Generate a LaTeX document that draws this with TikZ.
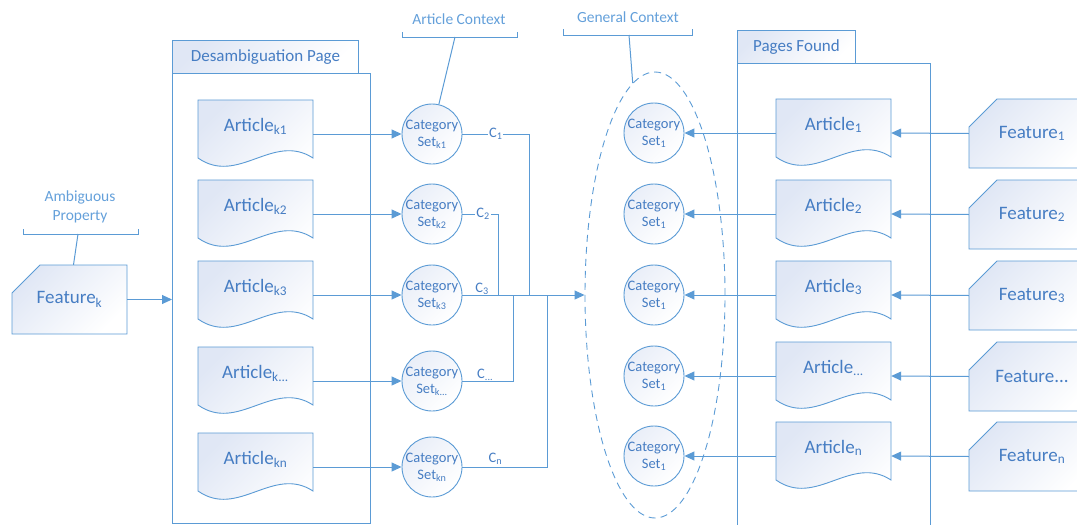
\documentclass[tikz,border=0pt]{standalone}
\usepackage{fontspec}
\setmainfont{Carlito}
\usetikzlibrary{arrows.meta,shapes.geometric,calc}
\definecolor{lineblue}{RGB}{91,155,213}
\definecolor{textblue}{RGB}{70,125,195}
\definecolor{lightblue}{RGB}{100,160,218}
\definecolor{fillc}{RGB}{224,231,245}
\tikzset{
 shapefill/.style={draw=lineblue, line width=0.9pt, top color=fillc, bottom color=white, shading angle=45},
 featnode/.style={inner sep=0, minimum height=69, text=textblue, font=\fontsize{19}{20}\selectfont},
 docnode/.style={inner sep=0, minimum width=115, minimum height=68, text=textblue, font=\fontsize{19}{20}\selectfont},
 catnode/.style={circle, draw=lineblue, line width=0.9pt, top color=fillc!70, bottom color=white, shading angle=45, minimum size=60, inner sep=0, text=textblue, align=center, font=\fontsize{14.5}{17}\selectfont},
 conn/.style={draw=lineblue, line width=1pt},
 arr/.style={conn, -{Triangle[length=10pt,width=9pt]}},
 clbl/.style={text=textblue, font=\fontsize{14.5}{15}\selectfont, inner sep=1pt},
 note/.style={text=lightblue, font=\fontsize{15.5}{19}\selectfont, align=center, inner sep=0},
 bracket/.style={draw=lineblue, line width=0.9pt},
 boxnode/.style={draw=lineblue, line width=0.9pt, fill=white, inner sep=0, anchor=north west},
 tabnode/.style={draw=lineblue, line width=0.9pt, top color=fillc, bottom color=white, shading angle=45, inner sep=0, anchor=north west, minimum height=33, text=textblue, font=\fontsize{17}{18}\selectfont},
 gcstyle/.style={ellipse, draw=lineblue, line width=0.9pt, dash pattern=on 7pt off 5pt, minimum width=140, minimum height=446, inner sep=0}
}
\newcommand\docbox[4]{%
 \pgfmathsetmacro\dxa{#2+115}\pgfmathsetmacro\dyb{#3+58}%
 \pgfmathsetmacro\dcxa{#2+75}\pgfmathsetmacro\dcya{#3+32}%
 \pgfmathsetmacro\dcxb{#2+40}\pgfmathsetmacro\dcyb{#3+86}%
 \pgfmathsetmacro\dmx{#2+57.5}\pgfmathsetmacro\dmy{#3+34}%
 \path[shapefill] (#2,#3) -- (\dxa,#3) -- (\dxa,\dyb) .. controls (\dcxa,\dcya) and (\dcxb,\dcyb) .. (#2,\dyb) -- cycle;
 \node[docnode] (#1) at (\dmx,\dmy) {\raisebox{3pt}[0pt][0pt]{#4}};
}
\newcommand\featbox[5]{%
 \pgfmathsetmacro\fxa{#2+28}\pgfmathsetmacro\fya{#3+28}\pgfmathsetmacro\fyb{#3+69}%
 \pgfmathsetmacro\fxc{(#2+#4)/2}\pgfmathsetmacro\fyc{#3+34.5}\pgfmathsetmacro\fw{#4-#2}%
 \path[shapefill] (#2,\fya) -- (\fxa,#3) -- (#4,#3) -- (#4,\fyb) -- (#2,\fyb) -- cycle;
 \node[featnode, minimum width=\fw] (#1) at (\fxc,\fyc) {#5};
}
\begin{document}
\begin{tikzpicture}[x=1pt,y=-1pt]
\useasboundingbox (0,0) rectangle (1077,525);
\clip (0,0) rectangle (1077,525);

% containers
\node[boxnode, minimum width=198, minimum height=450] (dpbox) at (172,73) {};
\node[tabnode, minimum width=186] (dptab) at (172,40) {Desambiguation Page};
\node[boxnode, minimum width=193, minimum height=470] (pfbox) at (737,63) {};
\node[tabnode, minimum width=118] (pftab) at (737,30) {Pages Found};

% left feature
\featbox{fk}{12}{265}{127}{Feature\textsubscript{k}}
\node[note] (ap) at (80,207) {Ambiguous\\Property};
\draw[bracket] (23,229) -- (23,234) -- (138,234) -- (138,229);
\coordinate (apm) at (78,234);
\draw[conn] (apm) -- ($(fk.north)+(4,0)$);
\draw[arr] (fk.east) -- (fk.east -| dpbox.west);

% left articles
\docbox{ak1}{198}{100}{Article\textsubscript{k1}}
\docbox{ak2}{198}{180}{Article\textsubscript{k2}}
\docbox{ak3}{198}{261}{Article\textsubscript{k3}}
\docbox{ak4}{198}{347}{Article\textsubscript{k...}}
\docbox{ak5}{198}{433}{Article\textsubscript{kn}}

% general context ellipse
\node[gcstyle] (gc) at (655,295) {};

% right articles and features
\docbox{a1}{776}{99}{Article\textsubscript{1}}
\docbox{a2}{776}{180}{Article\textsubscript{2}}
\docbox{a3}{776}{261}{Article\textsubscript{3}}
\docbox{a4}{776}{342}{Article\textsubscript{...}}
\docbox{a5}{776}{422}{Article\textsubscript{n}}
\featbox{f1}{969}{99}{1095}{Feature\textsubscript{1}}
\featbox{f2}{969}{180}{1095}{Feature\textsubscript{2}}
\featbox{f3}{969}{261}{1095}{Feature\textsubscript{3}}
\featbox{f4}{969}{342}{1095}{Feature...}
\featbox{f5}{969}{422}{1095}{Feature\textsubscript{n}}

% category set circles
\node[catnode] (ck1) at (432,134) {Category\\Set\textsubscript{k1}};
\node[catnode] (ck2) at (432,214) {Category\\Set\textsubscript{k2}};
\node[catnode] (ck3) at (432,295) {Category\\Set\textsubscript{k3}};
\node[catnode] (ck4) at (432,381) {Category\\Set\textsubscript{k...}};
\node[catnode] (ck5) at (432,467) {Category\\Set\textsubscript{kn}};
\node[catnode] (g1) at (654,133) {Category\\Set\textsubscript{1}};
\node[catnode] (g2) at (654,214) {Category\\Set\textsubscript{1}};
\node[catnode] (g3) at (654,295) {Category\\Set\textsubscript{1}};
\node[catnode] (g4) at (654,376) {Category\\Set\textsubscript{1}};
\node[catnode] (g5) at (654,456) {Category\\Set\textsubscript{1}};

% article -> category arrows (left)
\foreach \i in {1,...,5} {
  \draw[arr] (ak\i.east) -- (ck\i.west);
}
% right side arrows
\foreach \i in {1,...,5} {
  \draw[arr] (f\i.west) -- (a\i.east);
  \draw[arr] (a\i.west) -- (g\i.east);
}

% C connectors
\coordinate (j1) at (529,295);
\coordinate (j2) at (498,295);
\coordinate (j4) at (513,295);
\coordinate (j5) at (547,295);
\draw[conn] (ck1.east) -- node[clbl, fill=white] {C\textsubscript{1}} (ck1.east -| j1) -- (j1);
\draw[conn] (ck2.east) -- node[clbl, fill=white, pos=0.58] {C\textsubscript{2}} (ck2.east -| j2) -- (j2);
\draw[arr] (ck3.east) -- node[clbl, pos=0.16, anchor=south, yshift=-1pt] {C\textsubscript{3}} (gc.west);
\draw[conn] (ck4.east) -- node[clbl, pos=0.45, anchor=south, yshift=-1pt] {C\textsubscript{...}} (ck4.east -| j4) -- (j4);
\draw[conn] (ck5.east) -- node[clbl, pos=0.39, anchor=south, yshift=1pt] {C\textsubscript{n}} (ck5.east -| j5) -- (j5);

% context labels
\node[note] (acx) at (459,19) {Article Context};
\draw[bracket] (402,32) -- (402,37) -- (517,37) -- (517,32);
\coordinate (acm) at (455,37);
\draw[conn] (acm) -- (ck1.77);
\node[note] (gcx) at (628,17) {General Context};
\draw[bracket] (563,29) -- (563,35) -- (692,35) -- (692,29);
\coordinate (gcm) at (629,35);
\draw[conn] (gcm) -- (gc.96);
\end{tikzpicture}
\end{document}
